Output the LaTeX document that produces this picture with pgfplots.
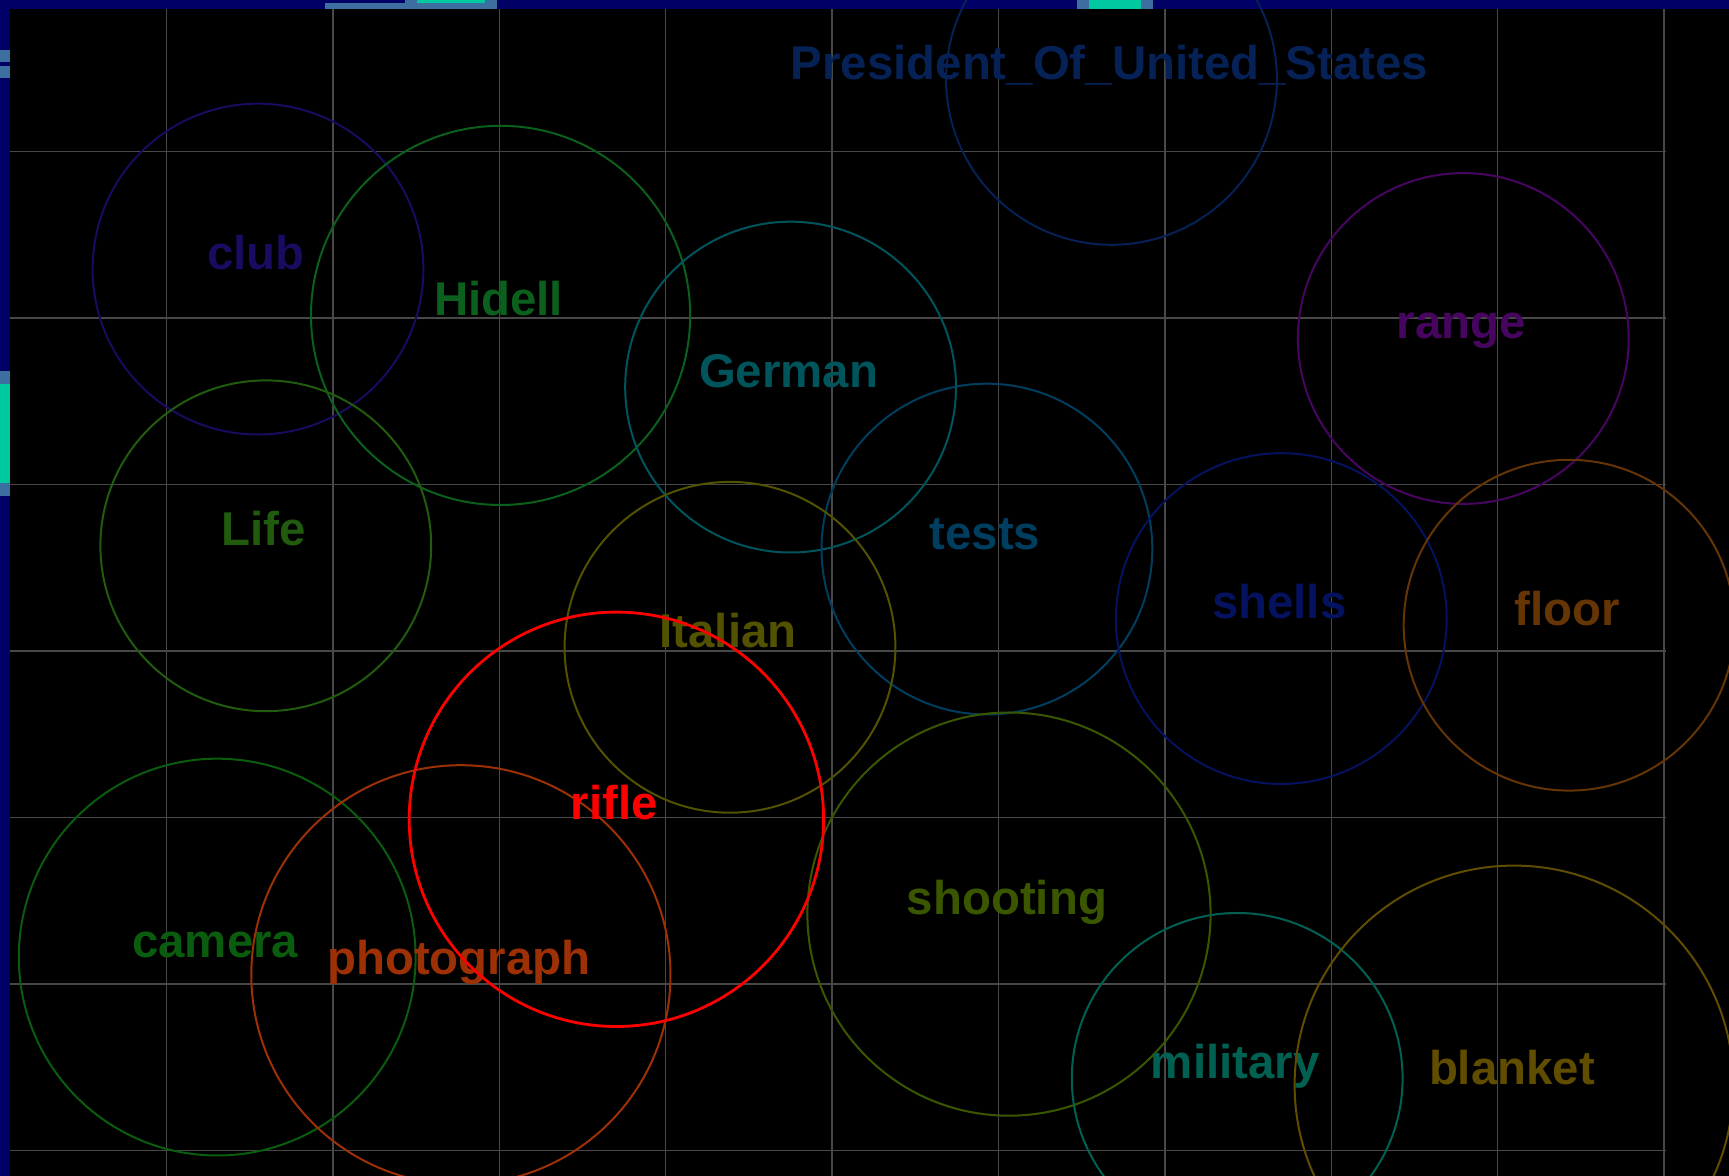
\documentclass[border=0pt]{standalone}
\usepackage{pgfplots}
\pgfplotsset{compat=1.18}
\usepackage{fontspec}
\setmainfont{Liberation Sans}
\definecolor{cClub}{RGB}{26,10,96}
\definecolor{cHidell}{RGB}{10,96,28}
\definecolor{cPres}{RGB}{5,33,86}
\definecolor{cRange}{RGB}{72,5,96}
\definecolor{cGerman}{RGB}{0,85,92}
\definecolor{cLife}{RGB}{33,92,14}
\definecolor{cTests}{RGB}{0,62,96}
\definecolor{cItalian}{RGB}{82,82,0}
\definecolor{cShells}{RGB}{5,18,96}
\definecolor{cFloor}{RGB}{102,53,5}
\definecolor{cRifle}{RGB}{255,0,0}
\definecolor{cCamera}{RGB}{10,92,14}
\definecolor{cPhoto}{RGB}{158,48,5}
\definecolor{cShooting}{RGB}{58,87,0}
\definecolor{cMilitary}{RGB}{0,97,82}
\definecolor{cBlanket}{RGB}{97,77,0}
\definecolor{navystrip}{RGB}{0,0,102}
\definecolor{markblue}{RGB}{60,110,160}
\definecolor{markteal}{RGB}{0,200,160}
\definecolor{gridgray}{RGB}{72,72,72}
\pgfplotsset{
  word/.style n args={2}{only marks, mark=o, color=#1, mark size=#2,
    mark options={line width=0.5pt}},
}
\begin{document}
\begin{tikzpicture}
\begin{axis}[
  scale only axis, width=432.25pt, height=294pt,
  xmin=0, xmax=1729, ymin=0, ymax=1176, y dir=reverse,
  axis background/.style={fill=black},
  axis line style={draw=none},
  tick style={draw=none},
  xticklabels={}, yticklabels={},
  xtick={166.4,332.8,499.2,665.6,832,998.4,1164.8,1331.2,1497.6,1664},
  ytick={151.5,318,484.5,651,817.5,984,1150.5},
  grid=major, grid style={draw=gridgray, line width=0.35pt},
  clip=true,
  point meta=explicit symbolic,
  nodes near coords,
  every node near coord/.append style={font=\fontsize{11.85}{14}\selectfont\bfseries, anchor=base, inner sep=0pt, xshift=-0.5pt},
]
\fill[black] (axis cs:1665.5,0) rectangle (axis cs:1730,1177);
\addplot[word={cClub}{41.35pt}] coordinates {(258.0,269.1) [club]};
\addplot[word={cHidell}{47.4pt}] coordinates {(500.6,315.4) [Hidell]};
\addplot[word={cPres}{41.35pt}] coordinates {(1111.5,79.4) [President\_Of\_United\_States]};
\addplot[word={cRange}{41.35pt}] coordinates {(1463.3,338.5) [range]};
\addplot[word={cGerman}{41.35pt}] coordinates {(790.6,387.1) [German]};
\addplot[word={cLife}{41.35pt}] coordinates {(265.8,545.8) [Life]};
\addplot[word={cTests}{41.35pt}] coordinates {(986.9,549.1) [tests]};
\addplot[word={cItalian}{41.35pt}] coordinates {(730.0,647.3) [Italian]};
\addplot[word={cShells}{41.35pt}] coordinates {(1281.3,618.6) [shells]};
\addplot[word={cFloor}{41.35pt}] coordinates {(1569.1,625.2) [floor]};
\addplot[word={cCamera}{49.6pt}] coordinates {(217.2,957.1) [camera]};
\addplot[word={cPhoto}{52.4pt}] coordinates {(460.9,974.8) [photograph]};
\addplot[word={cShooting}{50.4pt}] coordinates {(1009.0,914.1) [shooting]};
\addplot[word={cMilitary}{41.35pt}] coordinates {(1237.2,1078.4) [military]};
\addplot[word={cBlanket}{54.85pt}] coordinates {(1514.0,1085.0) [blanket]};
\addplot[word={cRifle}{51.8pt}, mark options={line width=0.7pt}] coordinates {(616.4,819.3) [rifle]};
% frame strips
\fill[navystrip] (axis cs:0,0) rectangle (axis cs:1730,9.5);
\fill[navystrip] (axis cs:0,0) rectangle (axis cs:10.5,1177);
\fill[markblue] (axis cs:325,3.5) rectangle (axis cs:497,9.5);
\fill[markblue] (axis cs:405,0) rectangle (axis cs:497,3.5);
\fill[markteal] (axis cs:417,0) rectangle (axis cs:485,3.5);
\fill[markblue] (axis cs:1077,0) rectangle (axis cs:1153,9.5);
\fill[markteal] (axis cs:1089,0) rectangle (axis cs:1141,9.5);
\fill[markblue] (axis cs:0,50) rectangle (axis cs:10.5,62);
\fill[markblue] (axis cs:0,66) rectangle (axis cs:10.5,78);
\fill[markblue] (axis cs:0,371) rectangle (axis cs:10.5,496);
\fill[markteal] (axis cs:0,384) rectangle (axis cs:10.5,483);
\end{axis}
\pgfresetboundingbox
\useasboundingbox (current axis.south west) rectangle (current axis.north east);
\end{tikzpicture}
\end{document}
